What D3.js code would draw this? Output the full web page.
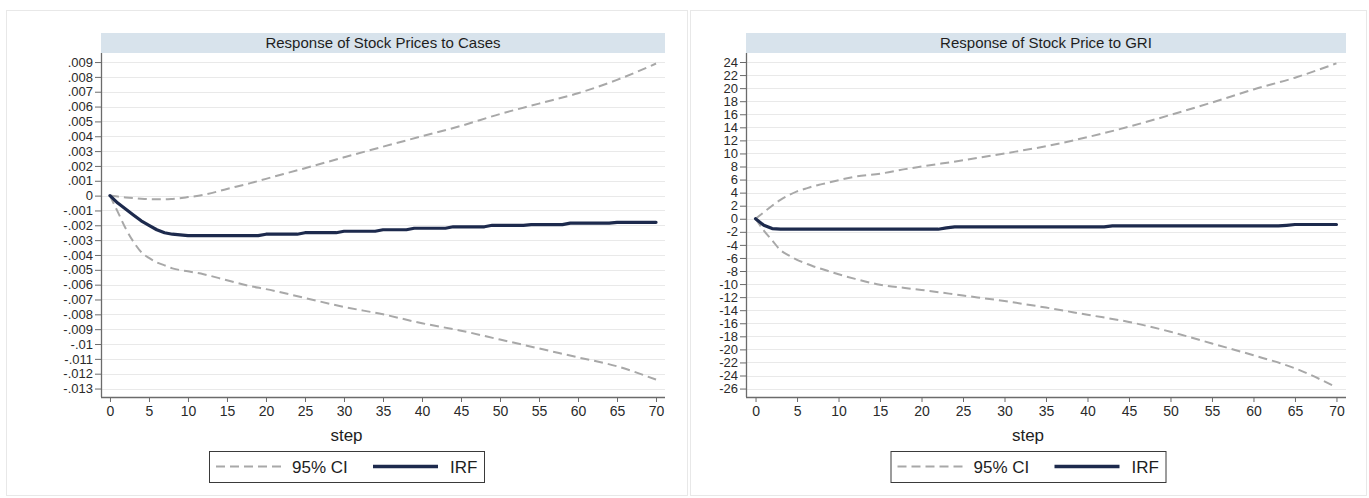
<!DOCTYPE html>
<html>
<head>
<meta charset="utf-8">
<script src="https://cdn.jsdelivr.net/npm/d3@7"></script>
<style>
  html, body { margin: 0; padding: 0; background: #ffffff; }
  svg { display: block; font-family: "Liberation Sans", Arial, Helvetica, sans-serif; }
</style>
</head>
<body>
<svg id="chart" width="1369" height="498"></svg>
<script>
// ---- Data: impulse responses with 95% confidence bands ----
const steps = d3.range(0, 71);               // forecast horizon 0..70
const ciSteps = [0, 1, 2, 3, 4, 5, 6, 7, 8, 10, 12, 15, 18, 20, 25, 30, 35, 40, 45, 50, 55, 60, 65, 70];
const xTicks = [0, 5, 10, 15, 20, 25, 30, 35, 40, 45, 50, 55, 60, 65, 70];

// Response of stock prices to cases
const casesIRF = [
  0, -0.0005, -0.0009, -0.0013, -0.0017, -0.0020, -0.0023, -0.0025, -0.0026, -0.00265,
  -0.0027, -0.0027, -0.0027, -0.0027, -0.0027, -0.0027, -0.0027, -0.0027, -0.0027, -0.0027,
  -0.0026, -0.0026, -0.0026, -0.0026, -0.0026,
  -0.0025, -0.0025, -0.0025, -0.0025, -0.0025,
  -0.0024, -0.0024, -0.0024, -0.0024, -0.0024,
  -0.0023, -0.0023, -0.0023, -0.0023,
  -0.0022, -0.0022, -0.0022, -0.0022, -0.0022,
  -0.0021, -0.0021, -0.0021, -0.0021, -0.0021,
  -0.0020, -0.0020, -0.0020, -0.0020, -0.0020,
  -0.00195, -0.00195, -0.00195, -0.00195, -0.00195,
  -0.00185, -0.00185, -0.00185, -0.00185, -0.00185, -0.00185,
  -0.0018, -0.0018, -0.0018, -0.0018, -0.0018, -0.0018
];
const casesUpper = [0, -0.00006, -0.00012, -0.00017, -0.00021, -0.00024, -0.00025, -0.00025, -0.00022, -0.0001,
  0.00005, 0.00045, 0.00084, 0.00113, 0.00185, 0.00258, 0.0033, 0.0040, 0.0047, 0.0055, 0.0062, 0.0069, 0.0078, 0.0089];
const casesLower = [0, -0.0011, -0.0022, -0.0031, -0.0038, -0.0042, -0.0045, -0.0047, -0.0049, -0.0051,
  -0.0053, -0.0057, -0.0061, -0.0063, -0.0069, -0.0075, -0.0080, -0.0086, -0.0091, -0.0097, -0.0103, -0.0109, -0.0115, -0.0124];
const casesYTicks = [0.009, 0.008, 0.007, 0.006, 0.005, 0.004, 0.003, 0.002, 0.001, 0,
  -0.001, -0.002, -0.003, -0.004, -0.005, -0.006, -0.007, -0.008, -0.009, -0.01, -0.011, -0.012, -0.013];
const casesYLabels = [".009", ".008", ".007", ".006", ".005", ".004", ".003", ".002", ".001", "0",
  "-.001", "-.002", "-.003", "-.004", "-.005", "-.006", "-.007", "-.008", "-.009", "-.01", "-.011", "-.012", "-.013"];

// Response of stock price to GRI
const griIRF = [
  0, -1.0, -1.5,
  -1.6, -1.6, -1.6, -1.6, -1.6, -1.6, -1.6, -1.6, -1.6, -1.6,
  -1.6, -1.6, -1.6, -1.6, -1.6, -1.6, -1.6, -1.6, -1.6, -1.6,
  -1.4,
  -1.25, -1.25, -1.25, -1.25, -1.25, -1.25, -1.25, -1.25, -1.25, -1.25,
  -1.25, -1.25, -1.25, -1.25, -1.25, -1.25, -1.25, -1.25, -1.25,
  -1.1, -1.1, -1.1, -1.1, -1.1, -1.1, -1.1, -1.1, -1.1, -1.1, -1.1,
  -1.1, -1.1, -1.1, -1.1, -1.1, -1.1, -1.1, -1.1, -1.1, -1.1, -1.0,
  -0.88, -0.88, -0.88, -0.88, -0.88, -0.88
];
const griUpper = [0, 1.0, 2.0, 2.9, 3.6, 4.2, 4.6, 5.0, 5.3, 5.9,
  6.45, 6.9, 7.6, 8.0, 8.95, 10.0, 11.1, 12.5, 14.1, 15.9, 17.8, 19.8, 21.6, 23.8];
const griLower = [0, -1.8, -3.3, -4.8, -5.6, -6.3, -6.8, -7.3, -7.7, -8.5,
  -9.2, -10.1, -10.6, -10.9, -11.75, -12.6, -13.6, -14.7, -15.8, -17.3, -19.1, -20.9, -22.9, -25.8];
const griYTicks = [24, 22, 20, 18, 16, 14, 12, 10, 8, 6, 4, 2, 0, -2, -4, -6, -8, -10, -12, -14, -16, -18, -20, -22, -24, -26];
const griYLabels = griYTicks.map(String);

const titles = ["Response of Stock Prices to Cases", "Response of Stock Price to GRI"];
const legendLabels = ["95% CI", "IRF"];
const xTitle = "step";

// ---- Layout ----
const panels = [
  { title: titles[0], irf: casesIRF, upper: casesUpper, lower: casesLower,
    yTicks: casesYTicks, yLabels: casesYLabels, yDomain: [-0.01357, 0.00961],
    frame: { x: 6, w: 681 }, plot: { x0: 101, x1: 665 } },
  { title: titles[1], irf: griIRF, upper: griUpper, lower: griLower,
    yTicks: griYTicks, yLabels: griYLabels, yDomain: [-27.29, 25.38],
    frame: { x: 690, w: 676 }, plot: { x0: 746, x1: 1346 } }
];
const frameY = 10, frameH = 485;
const titleTop = 33, plotTop = 53, plotBottom = 397;
const xDomain = [-1.15, 71.15];

const colIRF = "#1d2a4d", colCI = "#a8a8a8", colGrid = "#e9e9e9", colAxis = "#6b6b6b", colText = "#2a2a2a";

const svg = d3.select("#chart");

panels.forEach(p => {
  const g = svg.append("g");

  // panel frame
  g.append("rect")
    .attr("x", p.frame.x + 0.5).attr("y", frameY + 0.5)
    .attr("width", p.frame.w).attr("height", frameH)
    .attr("fill", "#ffffff").attr("stroke", "#e8e8e8");

  const x = d3.scaleLinear().domain(xDomain).range([p.plot.x0, p.plot.x1]);
  const y = d3.scaleLinear().domain(p.yDomain).range([plotBottom, plotTop]);

  // title strip
  g.append("rect")
    .attr("x", p.plot.x0).attr("y", titleTop)
    .attr("width", p.plot.x1 - p.plot.x0).attr("height", plotTop - titleTop)
    .attr("fill", "#d8e3ec");
  g.append("text")
    .attr("x", (p.plot.x0 + p.plot.x1) / 2).attr("y", titleTop + 15)
    .attr("text-anchor", "middle").attr("font-size", 15).attr("fill", "#1e1e1e")
    .text(p.title);

  // horizontal grid lines
  g.append("g").selectAll("line").data(p.yTicks).join("line")
    .attr("x1", p.plot.x0).attr("x2", p.plot.x1)
    .attr("y1", d => Math.round(y(d)) + 0.5).attr("y2", d => Math.round(y(d)) + 0.5)
    .attr("stroke", colGrid).attr("stroke-width", 1);

  // y axis
  const yAxis = d3.axisLeft(y).tickValues(p.yTicks)
    .tickFormat((d, i) => p.yLabels[i]).tickSize(6).tickPadding(2);
  const ya = g.append("g").attr("transform", `translate(${p.plot.x0},0)`).call(yAxis);
  ya.select(".domain").attr("d", `M0.5,${plotTop}V${plotBottom}`).attr("stroke", colAxis).attr("stroke-width", 1.3);
  ya.selectAll(".tick line").attr("stroke", colAxis);
  ya.selectAll(".tick text").attr("font-size", 13).attr("fill", colText)
    .attr("font-family", '"Liberation Sans", Arial, sans-serif');

  // x axis
  const xAxis = d3.axisBottom(x).tickValues(xTicks).tickSize(5).tickPadding(4);
  const xa = g.append("g").attr("transform", `translate(0,${plotBottom})`).call(xAxis);
  xa.select(".domain").attr("d", `M${p.plot.x0},0.5H${p.plot.x1}`).attr("stroke", colAxis).attr("stroke-width", 1.3);
  xa.selectAll(".tick line").attr("stroke", colAxis);
  xa.selectAll(".tick text").attr("font-size", 14).attr("fill", colText)
    .attr("font-family", '"Liberation Sans", Arial, sans-serif');

  const cx = p.frame.x + p.frame.w / 2;
  g.append("text")
    .attr("x", cx).attr("y", 441)
    .attr("text-anchor", "middle").attr("font-size", 17).attr("fill", "#1e1e1e")
    .text(xTitle);

  // confidence bands
  const ciLine = d3.line().x(d => x(d[0])).y(d => y(d[1])).curve(d3.curveMonotoneX);
  [p.upper, p.lower].forEach(vals => {
    g.append("path")
      .datum(ciSteps.map((s, i) => [s, vals[i]]))
      .attr("d", ciLine)
      .attr("fill", "none").attr("stroke", colCI)
      .attr("stroke-width", 2).attr("stroke-dasharray", "9,5");
  });

  // impulse response
  const irfLine = d3.line().x(d => x(d[0])).y(d => y(d[1]));
  g.append("path")
    .datum(steps.map((s, i) => [s, p.irf[i]]))
    .attr("d", irfLine)
    .attr("fill", "none").attr("stroke", colIRF)
    .attr("stroke-width", 3.2).attr("stroke-linejoin", "round").attr("stroke-linecap", "round");

  // legend
  const lx = cx - 137.5, ly = 451, lh = 31, lw = 275, mid = ly + lh / 2;
  const lg = g.append("g");
  lg.append("rect").attr("x", lx + 0.5).attr("y", ly + 0.5).attr("width", lw).attr("height", lh)
    .attr("fill", "#ffffff").attr("stroke", "#3a3a3a").attr("stroke-width", 1);
  lg.append("line").attr("x1", lx + 7).attr("x2", lx + 72).attr("y1", mid).attr("y2", mid)
    .attr("stroke", colCI).attr("stroke-width", 2).attr("stroke-dasharray", "9,5");
  lg.append("text").attr("x", lx + 83).attr("y", mid + 6)
    .attr("font-size", 17).attr("fill", "#1e1e1e").text(legendLabels[0]);
  lg.append("line").attr("x1", lx + 164).attr("x2", lx + 229).attr("y1", mid).attr("y2", mid)
    .attr("stroke", colIRF).attr("stroke-width", 3.6);
  lg.append("text").attr("x", lx + 241).attr("y", mid + 6)
    .attr("font-size", 17).attr("fill", "#1e1e1e").text(legendLabels[1]);
});
</script>
</body>
</html>
